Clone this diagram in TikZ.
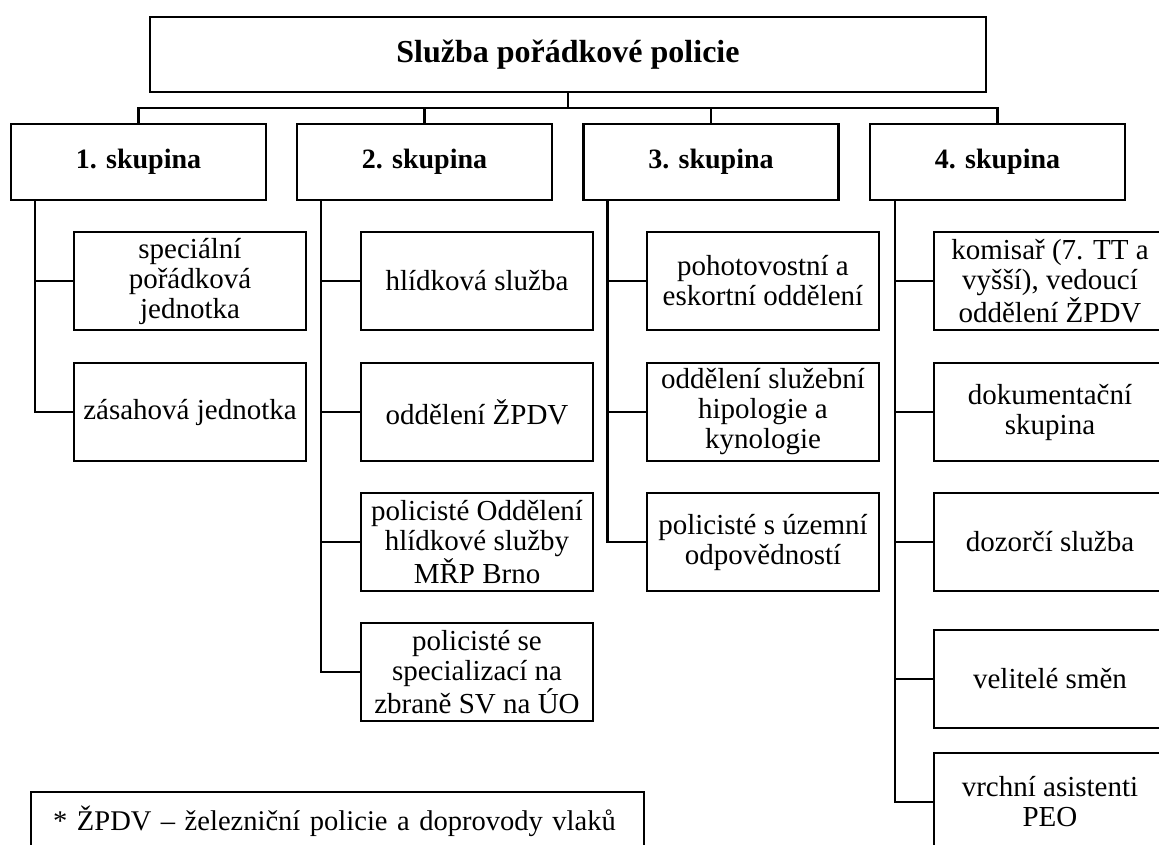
\documentclass[tikz,border=0pt]{standalone}
\usepackage{fontspec}
\setmainfont{Liberation Serif}
\begin{document}
\begin{tikzpicture}[x=0.75pt,y=-0.75pt,
  box/.style={draw, line width=1.8pt, inner sep=0pt, align=center, fill=white},
  titlebox/.style={box, minimum width=627pt, minimum height=56.25pt, font=\bfseries\fontsize{24}{26}\selectfont},
  groupbox/.style={box, minimum width=191.25pt, minimum height=57pt, font=\bfseries\fontsize{21}{24}\selectfont},
  childbox/.style={box, minimum width=174pt, minimum height=73.5pt, font=\fontsize{21.75}{22.5}\selectfont},
  notebox/.style={draw, line width=1.8pt, anchor=north west, inner xsep=16.5pt, inner ysep=0pt,
    minimum height=43.5pt, text width=426.75pt, align=left, font=\fontsize{21.4}{22.5}\selectfont},
  conn/.style={line width=1.8pt}]
\useasboundingbox (0,0) rectangle (1159,844);
\clip (0,0) rectangle (1159,844);
\fill[white] (0,0) rectangle (1159,844);

% title and groups
\node[titlebox] (title) at (568,54.5) {Služba pořádkové policie};
\node[groupbox] (g1) at (138.5,162) {1. skupina};
\node[groupbox] (g2) at (424.5,162) {2. skupina};
\node[groupbox] (g3) at (711,162) {3. skupina};
\node[groupbox] (g4) at (997.5,162) {4. skupina};

% children column 1
\node[childbox] (c11) at (190,281) {speciální\\pořádková\\jednotka};
\node[childbox] (c12) at (190,412) {zásahová jednotka};
% column 2
\node[childbox] (c21) at (477,281) {hlídková služba};
\node[childbox] (c22) at (477,412) {oddělení ŽPDV};
\node[childbox] (c23) at (477,542) {policisté Oddělení\\hlídkové služby\\MŘP Brno};
\node[childbox] (c24) at (477,672) {policisté se\\specializací na\\zbraně SV na ÚO};
% column 3
\node[childbox] (c31) at (763,281) {pohotovostní a\\eskortní oddělení};
\node[childbox] (c32) at (763,412) {oddělení služební\\hipologie a\\kynologie};
\node[childbox] (c33) at (763,542) {policisté s územní\\odpovědností};
% column 4
\node[childbox] (c41) at (1050,281) {komisař (7. TT a\\vyšší), vedoucí\\oddělení ŽPDV};
\node[childbox] (c42) at (1050,412) {dokumentační\\skupina};
\node[childbox] (c43) at (1050,542) {dozorčí služba};
\node[childbox] (c44) at (1050,679) {velitelé směn};
\node[childbox] (c45) at (1050,802) {vrchní asistenti\\PEO};

% note
\node[notebox] (note) at (30,791) {\mbox{* ŽPDV – železniční policie a doprovody vlaků}};

% bus
\coordinate (bus) at (568,108);
\draw[conn] (title.south) -- (bus);
\draw[conn] (g1.north) |- (bus) -| (g4.north);
\draw[conn] (g2.north) -- (g2.north |- bus);
\draw[conn] (g3.north) -- (g3.north |- bus);

% trunks
\coordinate (t1) at ([xshift=18.75pt]g1.south west);
\coordinate (t2) at ([xshift=18.75pt]g2.south west);
\coordinate (t3) at ([xshift=18.75pt]g3.south west);
\coordinate (t4) at ([xshift=19.5pt]g4.south west);

\draw[conn] (t1) |- (c12.west);
\draw[conn] (c11.west) -- (c11.west -| t1);

\draw[conn] (t2) |- (c24.west);
\draw[conn] (c21.west) -- (c21.west -| t2);
\draw[conn] (c22.west) -- (c22.west -| t2);
\draw[conn] (c23.west) -- (c23.west -| t2);

\draw[conn] (t3) |- (c33.west);
\draw[conn] (c31.west) -- (c31.west -| t3);
\draw[conn] (c32.west) -- (c32.west -| t3);

\draw[conn] (t4) |- (c45.west);
\draw[conn] (c41.west) -- (c41.west -| t4);
\draw[conn] (c42.west) -- (c42.west -| t4);
\draw[conn] (c43.west) -- (c43.west -| t4);
\draw[conn] (c44.west) -- (c44.west -| t4);
\end{tikzpicture}
\end{document}
